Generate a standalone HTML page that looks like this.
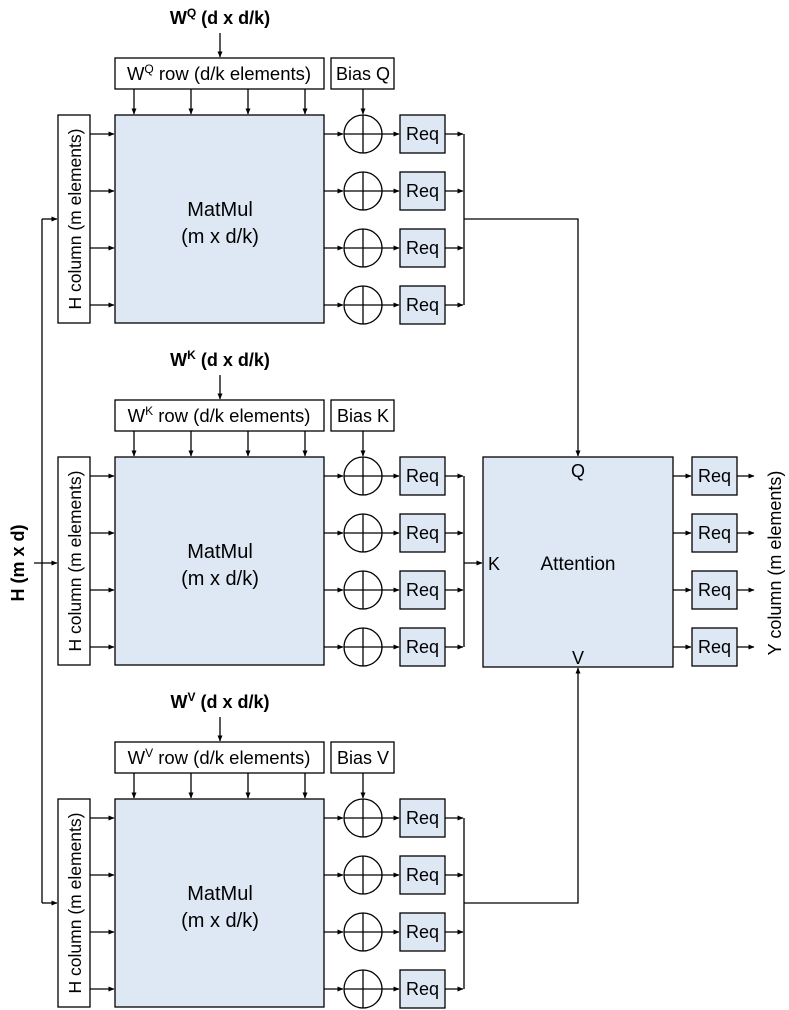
<!DOCTYPE html>
<html><head><meta charset="utf-8"><style>
html,body{margin:0;padding:0;background:#fff;}
svg{display:block;font-family:"Liberation Sans",sans-serif;}
</style></head><body>
<svg width="789" height="1010" viewBox="0 0 789 1010" xmlns="http://www.w3.org/2000/svg">
<defs>
<marker id="a" markerWidth="6" markerHeight="6" refX="5.5" refY="3" orient="auto" markerUnits="userSpaceOnUse">
<path d="M0,0.5 L6,3 L0,5.5 Z" fill="#000"/></marker>
<g id="blk">
  <line x1="220" y1="33" x2="220" y2="57" stroke="#000" stroke-width="1.3" marker-end="url(#a)"/>
  <rect x="115" y="58" width="209" height="31" fill="#fff" stroke="#000" stroke-width="1.3"/>
  <rect x="331" y="58" width="63" height="31" fill="#fff" stroke="#000" stroke-width="1.3"/>
  <g stroke="#000" stroke-width="1.3">
    <line x1="134" y1="89" x2="134" y2="114" marker-end="url(#a)"/>
    <line x1="191" y1="89" x2="191" y2="114" marker-end="url(#a)"/>
    <line x1="248" y1="89" x2="248" y2="114" marker-end="url(#a)"/>
    <line x1="305" y1="89" x2="305" y2="114" marker-end="url(#a)"/>
    <line x1="363" y1="89" x2="363" y2="114" marker-end="url(#a)"/>
  </g>
  <rect x="115" y="115" width="209" height="208" fill="#dde8f4" stroke="#000" stroke-width="1.3"/>
  <text x="220" y="216" font-size="20" text-anchor="middle">MatMul</text>
  <text x="220" y="243" font-size="20" text-anchor="middle">(m x d/k)</text>
  <rect x="58" y="115" width="32" height="208" fill="#fff" stroke="#000" stroke-width="1.3"/>
  <text transform="translate(81,219) rotate(-90)" font-size="17.5" text-anchor="middle">H column (m elements)</text>
  <g id="row">
    <line x1="90" y1="134" x2="114" y2="134" stroke="#000" stroke-width="1.3" marker-end="url(#a)"/>
    <line x1="324" y1="134" x2="343" y2="134" stroke="#000" stroke-width="1.3" marker-end="url(#a)"/>
    <circle cx="363" cy="134" r="19" fill="#fff" stroke="#000" stroke-width="1.3"/>
    <line x1="344" y1="134" x2="382" y2="134" stroke="#000" stroke-width="1.3"/>
    <line x1="363" y1="115" x2="363" y2="153" stroke="#000" stroke-width="1.3"/>
    <line x1="382" y1="134" x2="399" y2="134" stroke="#000" stroke-width="1.3" marker-end="url(#a)"/>
    <rect x="400" y="115" width="45" height="38" fill="#dde8f4" stroke="#000" stroke-width="1.3"/>
    <text x="422.5" y="140" font-size="18" text-anchor="middle">Req</text>
    <line x1="445" y1="134" x2="463" y2="134" stroke="#000" stroke-width="1.3" marker-end="url(#a)"/>
  </g>
  <use href="#row" y="57"/>
  <use href="#row" y="114"/>
  <use href="#row" y="171"/>
  <line x1="464" y1="134" x2="464" y2="305" stroke="#000" stroke-width="1.3"/>
</g>
</defs>

<use href="#blk"/>
<text x="220" y="24" font-size="18" font-weight="bold" text-anchor="middle">W<tspan font-size="12" dy="-7">Q</tspan><tspan dy="7"> (d x d/k)</tspan></text>
<text x="219" y="80" font-size="18.5" text-anchor="middle">W<tspan font-size="12" dy="-7">Q</tspan><tspan dy="7"> row (d/k elements)</tspan></text>
<text x="363" y="80" font-size="18" text-anchor="middle">Bias Q</text>

<use href="#blk" y="342"/>
<text x="220" y="366" font-size="18" font-weight="bold" text-anchor="middle">W<tspan font-size="12" dy="-7">K</tspan><tspan dy="7"> (d x d/k)</tspan></text>
<text x="219" y="422" font-size="18.5" text-anchor="middle">W<tspan font-size="12" dy="-7">K</tspan><tspan dy="7"> row (d/k elements)</tspan></text>
<text x="363" y="422" font-size="18" text-anchor="middle">Bias K</text>

<use href="#blk" y="684"/>
<text x="220" y="708" font-size="18" font-weight="bold" text-anchor="middle">W<tspan font-size="12" dy="-7">V</tspan><tspan dy="7"> (d x d/k)</tspan></text>
<text x="219" y="764" font-size="18.5" text-anchor="middle">W<tspan font-size="12" dy="-7">V</tspan><tspan dy="7"> row (d/k elements)</tspan></text>
<text x="363" y="764" font-size="18" text-anchor="middle">Bias V</text>

<g stroke="#000" stroke-width="1.3" fill="none">
  <line x1="42" y1="219" x2="42" y2="903"/>
  <line x1="42" y1="219" x2="57" y2="219" marker-end="url(#a)"/>
  <line x1="42" y1="903" x2="57" y2="903" marker-end="url(#a)"/>
  <line x1="34" y1="563" x2="57" y2="563" marker-end="url(#a)"/>
</g>
<text transform="translate(24,563) rotate(-90)" font-size="18" font-weight="bold" text-anchor="middle">H (m x d)</text>

<g stroke="#000" stroke-width="1.3" fill="none">
  <polyline points="464,219 578,219 578,456" marker-end="url(#a)"/>
  <line x1="464" y1="563" x2="482" y2="563" marker-end="url(#a)"/>
  <polyline points="464,903 578,903 578,668" marker-end="url(#a)"/>
</g>

<rect x="483" y="457" width="190" height="210" fill="#dde8f4" stroke="#000" stroke-width="1.3"/>
<text x="578" y="477" font-size="18" text-anchor="middle">Q</text>
<text x="494" y="570" font-size="18" text-anchor="middle">K</text>
<text x="578" y="570" font-size="19" text-anchor="middle">Attention</text>
<text x="578" y="664" font-size="18" text-anchor="middle">V</text>

<g id="orow">
  <line x1="673" y1="476" x2="691" y2="476" stroke="#000" stroke-width="1.3" marker-end="url(#a)"/>
  <rect x="692" y="457" width="45" height="38" fill="#dde8f4" stroke="#000" stroke-width="1.3"/>
  <text x="714.5" y="482" font-size="18" text-anchor="middle">Req</text>
  <line x1="737" y1="476" x2="754" y2="476" stroke="#000" stroke-width="1.3" marker-end="url(#a)"/>
</g>
<use href="#orow" y="57"/>
<use href="#orow" y="114"/>
<use href="#orow" y="171"/>
<text transform="translate(781,563) rotate(-90)" font-size="18" text-anchor="middle">Y column (m elements)</text>
</svg>
</body></html>
